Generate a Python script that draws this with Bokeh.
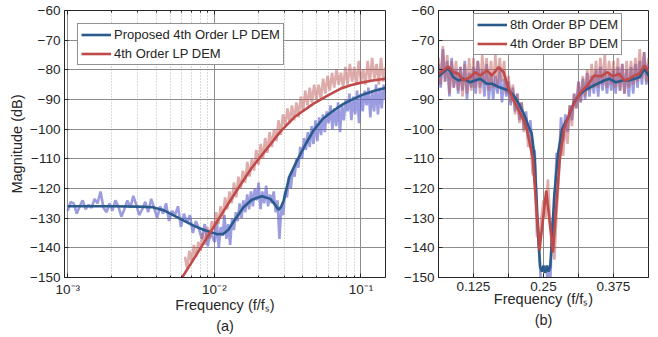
import numpy as np
from bokeh.plotting import figure
from bokeh.models import (Range1d, FixedTicker, LogAxis, LinearAxis, Legend,
                          LegendItem, Title, CustomJSTickFormatter)
from bokeh.layouts import row
from bokeh.embed import file_html
from bokeh.resources import INLINE

FONT = "Liberation Sans"
TXT = "#262626"
BLUE = "#2a5b8c"
RED = "#c04a4a"
BLUE_N = "#5a5acc"
RED_N = "#c05a5a"

# ---------------- shared ----------------
y_ticks = [-150, -140, -130, -120, -110, -100, -90, -80, -70, -60]

# ---------------- panel (a): LP DEM ----------------
lp_x_ticks = [0.001, 0.01, 0.1]
lp_minor_ticks = [k * d for d in (0.001, 0.01, 0.1) for k in range(2, 10)]

lp_prop_f = [0.001, 0.0015, 0.002, 0.003, 0.0038, 0.0045, 0.005, 0.006, 0.0072,
             0.0085, 0.0094, 0.0105, 0.0115, 0.0125, 0.0138, 0.0158, 0.018, 0.0211,
             0.0241, 0.026, 0.0274, 0.0285, 0.0297, 0.0325, 0.0366, 0.042, 0.0475,
             0.055, 0.065, 0.076, 0.089, 0.105, 0.125, 0.147]
lp_prop_db = [-126.0, -126.0, -126.0, -126.1, -126.3, -127.3, -128.5, -130.5, -132.5,
              -134.0, -134.7, -135.4, -135.3, -133.8, -130.5, -126.3, -123.8, -122.6,
              -123.5, -125.5, -127.2, -126.2, -124.0, -116.0, -110.6, -105.0, -100.4,
              -96.5, -93.7, -91.5, -89.8, -88.2, -87.0, -86.1]

lp_4th_f = [0.0055, 0.007, 0.009, 0.0115, 0.0145, 0.018, 0.0225, 0.028, 0.035,
            0.0475, 0.06, 0.0723, 0.085, 0.0989, 0.12, 0.147]
lp_4th_db = [-153.1, -144.9, -136.2, -127.8, -120.0, -113.0, -107.0, -101.0, -96.0,
             -91.4, -88.5, -86.4, -85.2, -84.4, -83.6, -83.0]

lp_prop_noise_lo_db = [
    -127.5, -124.5, -125.0, -128.5, -126.0, -124.0, -127.0, -125.5, -126.5, -123.5,
    -125.0, -121.0, -126.5, -128.0, -125.0, -127.5, -124.0, -126.0, -129.5, -127.0,
    -124.0, -126.5, -122.5, -125.5, -129.0, -127.0, -124.5, -128.0, -123.5, -126.5,
    -130.0, -126.0, -128.5, -125.0, -131.0, -127.5, -129.0, -126.0, -133.0, -128.5,
    -131.5, -129.0, -135.0, -131.0, -133.5, -137.0, -132.0, -139.5, -134.5, -137.5]
lp_prop_noise_hi_db = [
    -138, -131, -140, -133, -136, -129, -137, -132, -139, -130,
    -134, -128, -131, -125, -130, -124, -128, -122, -127, -121,
    -126, -120, -124, -118, -127, -121, -125, -119, -126, -122,
    -125, -121, -128, -124, -137, -126, -129, -121, -123, -116,
    -120, -114, -116, -110, -113, -106, -110, -103, -107, -101,
    -106, -99, -105, -97, -104, -96, -102, -95, -101, -94,
    -98, -92, -100, -93, -99, -91, -101, -92, -97, -90,
    -94, -88, -97, -89, -95, -87, -98, -88, -94, -87,
    -92, -86, -96, -87, -94, -85, -95, -86, -93, -85,
    -90]
lp_4th_noise_db = [
    -143, -147, -141, -145, -139, -143, -138, -141, -135, -139,
    -133, -137, -131, -134, -128, -132, -126, -130, -123, -127,
    -121, -125, -118, -123, -116, -120, -114, -118, -111, -116,
    -110, -114, -107, -112, -105, -110, -103, -108, -101, -106,
    -100, -104, -97, -102, -95, -99, -93, -98, -92, -97,
    -91, -96, -89, -94, -87, -92, -86, -91, -85, -90,
    -85, -90, -83, -88, -82, -87, -81, -86, -80, -85,
    -81, -86, -79, -85, -78, -84, -79, -85, -77, -84,
    -80, -85, -77, -84, -76, -83, -78, -85, -76, -84,
    -79]

# ---------------- panel (b): BP DEM ----------------
bp_x_ticks = [0.125, 0.1875, 0.25, 0.3125, 0.375]

bp8_f = [0.0625, 0.0711, 0.0801, 0.0891, 0.0981, 0.107, 0.1189, 0.1279, 0.1369, 0.1489,
         0.1579, 0.1699, 0.1789, 0.1879, 0.1968, 0.2058, 0.2148, 0.2238, 0.229, 0.234,
         0.238, 0.241, 0.244, 0.247, 0.250, 0.253, 0.256, 0.259, 0.262, 0.265,
         0.269, 0.2759, 0.2836, 0.2956, 0.3046, 0.3136, 0.3226, 0.3344, 0.3464, 0.3585,
         0.3675, 0.3793, 0.3913, 0.4024, 0.4124, 0.4213, 0.4303, 0.4375]
bp8_db = [-82.3, -80.8, -79.4, -82.5, -83.6, -83.0, -84.2, -83.6, -83.0, -84.7,
          -84.7, -85.8, -86.4, -87.0, -88.6, -91.4, -94.8, -99.3, -101.5, -109.4,
          -125.0, -138.0, -146.5, -148.0, -146.0, -148.5, -146.0, -148.0, -146.5, -137.5,
          -123.0, -108.3, -99.8, -95.4, -90.9, -88.6, -87.0, -85.8, -84.7, -83.6,
          -83.0, -84.2, -83.6, -83.6, -83.0, -82.5, -79.7, -81.9]

bp4_f = [0.0625, 0.0711, 0.0801, 0.0891, 0.0981, 0.107, 0.1189, 0.1279, 0.1369, 0.1489,
         0.1579, 0.1699, 0.1789, 0.1848, 0.1938, 0.2028, 0.2148, 0.2207, 0.231, 0.2428,
         0.2549, 0.2669, 0.2788, 0.2866, 0.2985, 0.3075, 0.3165, 0.3285, 0.3405, 0.3524,
         0.3644, 0.3734, 0.3854, 0.3944, 0.4034, 0.4124, 0.4213, 0.4303, 0.4375]
bp4_db = [-81.5, -80.2, -78.9, -80.8, -81.3, -83.6, -82.5, -80.8, -81.9, -80.2,
          -81.9, -79.1, -80.8, -84.7, -89.2, -92.6, -97.1, -100.4, -110.0, -140.9,
          -120.7, -141.5, -110.6, -100.0, -93.7, -90.3, -87.5, -85.3, -81.9, -82.2,
          -80.8, -82.2, -81.3, -83.6, -83.0, -81.9, -81.3, -78.5, -80.5]

bp8_noise_db = [
    -78, -86, -73, -84, -77, -89, -76, -86,
    -80, -88, -79, -87, -77, -90, -81, -86,
    -79, -88, -77, -86, -80, -89, -78, -90,
    -81, -90, -82, -88, -80, -91, -83, -89,
    -84, -92, -86, -94, -88, -97, -91, -100,
    -94, -103, -97, -108, -107, -130, -139, -155,
    -150, -155, -146, -154, -132, -127, -108, -113,
    -96, -104, -95, -101, -92, -97, -88, -93,
    -84, -91, -83, -90, -81, -89, -82, -88,
    -80, -89, -79, -87, -80, -88, -81, -87,
    -80, -88, -79, -87, -78, -88, -80, -89,
    -79, -88, -78, -86, -77, -85, -74, -85,
    -78]
bp4_noise_db = [
    -76, -85, -72, -84, -75, -88, -77, -86,
    -77, -87, -79, -89, -78, -88, -76, -87,
    -76, -86, -77, -88, -75, -85, -76, -87,
    -77, -86, -75, -85, -76, -84, -77, -88,
    -82, -91, -85, -95, -88, -98, -91, -101,
    -96, -106, -102, -115, -116, -136, -137, -130,
    -124, -130, -117, -131, -135, -144, -128, -116,
    -100, -109, -97, -105, -92, -99, -88, -93,
    -84, -91, -82, -89, -80, -87, -78, -86,
    -77, -86, -76, -85, -75, -86, -77, -85,
    -77, -86, -76, -87, -78, -88, -77, -86,
    -77, -85, -76, -84, -73, -83, -74, -84,
    -76]

# frequency bins of the measured spectra
lp_prop_noise_f = np.concatenate([np.geomspace(0.001, 0.0099, len(lp_prop_noise_lo_db)),
                                  np.geomspace(0.0101, 0.147, len(lp_prop_noise_hi_db))])
lp_prop_noise_db = lp_prop_noise_lo_db + lp_prop_noise_hi_db
lp_4th_noise_f = np.geomspace(0.0063, 0.147, len(lp_4th_noise_db))
bp8_noise_f = np.linspace(0.0625, 0.4375, len(bp8_noise_db))
bp4_noise_f = np.linspace(0.0625, 0.4375, len(bp4_noise_db))

Y_FMT = "return tick < 0 ? '\u2212' + Math.abs(tick) : String(tick);"
LOG_FMT = """
const e = Math.round(Math.log10(tick));
const sup = {'-':'\u207b','0':'\u2070','1':'\u00b9','2':'\u00b2','3':'\u00b3','4':'\u2074',
             '5':'\u2075','6':'\u2076','7':'\u2077','8':'\u2078','9':'\u2079'};
return '10' + String(e).split('').map(c => sup[c]).join('');
"""
BP_FMT = """
const q = tick / 0.125;
return Math.abs(q - Math.round(q)) < 1e-6 ? String(tick) : '';
"""


def style_axis(ax):
    ax.axis_line_color = TXT
    ax.major_tick_line_color = TXT
    ax.minor_tick_line_color = TXT
    ax.major_tick_in = 4
    ax.major_tick_out = 0
    ax.minor_tick_in = 2
    ax.minor_tick_out = 0
    ax.major_label_text_font = FONT
    ax.major_label_text_font_size = "13.5px"
    ax.major_label_text_color = TXT
    ax.major_label_standoff = 4
    ax.axis_label_text_font = FONT
    ax.axis_label_text_font_size = "14.5px"
    ax.axis_label_text_font_style = "normal"
    ax.axis_label_text_color = TXT
    ax.axis_label_standoff = -3


def top_axis(cls, ticker):
    ax = cls(ticker=ticker, formatter=CustomJSTickFormatter(code="return '';"),
             major_label_text_font_size="1px", major_label_standoff=0,
             axis_line_color=None, major_tick_in=4, major_tick_out=0,
             minor_tick_in=2, minor_tick_out=0,
             major_tick_line_color=TXT, minor_tick_line_color=TXT)
    return ax


def make_legend(items, loc):
    lg = Legend(items=items, location=loc, label_text_font=FONT,
                label_text_font_size="13px", label_text_color=TXT,
                glyph_width=30, glyph_height=15, label_height=15,
                label_standoff=3, padding=3, spacing=4, margin=0,
                border_line_color=TXT, border_line_width=1,
                background_fill_color="white", background_fill_alpha=1.0)
    return lg


NOISE_W = 2.6

# ---------- figure (a) ----------
p1 = figure(x_axis_type="log", x_range=Range1d(0.00095, 0.147), y_range=Range1d(-150, -60),
            frame_width=321, frame_height=267, min_border_left=64, min_border_right=8,
            min_border_top=10, min_border_bottom=60, output_backend="svg",
            toolbar_location=None)
lp_ticker = FixedTicker(ticks=lp_x_ticks, minor_ticks=lp_minor_ticks)
p1.xaxis.ticker = lp_ticker
p1.xgrid.ticker = lp_ticker
p1.xaxis.formatter = CustomJSTickFormatter(code=LOG_FMT)
p1.yaxis.ticker = FixedTicker(ticks=y_ticks)
p1.yaxis.formatter = CustomJSTickFormatter(code=Y_FMT)
p1.xaxis.axis_label = "Frequency (f/f\u209b)"
p1.yaxis.axis_label = "Magnitude (dB)"
for ax in p1.xaxis + p1.yaxis:
    style_axis(ax)
p1.yaxis.axis_label_standoff = 2
p1.add_layout(top_axis(LogAxis, FixedTicker(ticks=lp_x_ticks, minor_ticks=lp_minor_ticks)), "above")

p1.xgrid.grid_line_color = "#8c8c8c"
p1.xgrid.minor_grid_line_color = "#b4b4b4"
p1.xgrid.minor_grid_line_dash = "1 2"
p1.ygrid.grid_line_color = "#8c8c8c"
p1.outline_line_color = TXT
p1.outline_line_alpha = 1.0

p1.line(lp_prop_noise_f, lp_prop_noise_db, line_width=NOISE_W, color=BLUE_N, alpha=0.6)
p1.line(lp_4th_noise_f, lp_4th_noise_db, line_width=NOISE_W, color=RED_N, alpha=0.5)
r_pb = p1.line(lp_prop_f, lp_prop_db, line_width=2.6, color=BLUE)
r_pr = p1.line(lp_4th_f, lp_4th_db, line_width=2.6, color=RED)
p1.add_layout(make_legend([LegendItem(label="Proposed 4th Order LP DEM", renderers=[r_pb]),
                           LegendItem(label="4th Order LP DEM", renderers=[r_pr])], (13, 212)))
p1.add_layout(Title(text="(a)", align="center", text_font=FONT, text_font_size="14.5px",
                    text_font_style="normal", text_color=TXT, standoff=0), "below")

# ---------- figure (b) ----------
p2 = figure(x_range=Range1d(0.0625, 0.4375), y_range=Range1d(-150, -60),
            frame_width=210, frame_height=267, min_border_left=45, min_border_right=10,
            min_border_top=10, min_border_bottom=60, output_backend="svg",
            toolbar_location=None)
p2.xaxis.ticker = FixedTicker(ticks=bp_x_ticks)
p2.xaxis.formatter = CustomJSTickFormatter(code=BP_FMT)
p2.yaxis.ticker = FixedTicker(ticks=y_ticks)
p2.yaxis.formatter = CustomJSTickFormatter(code=Y_FMT)
p2.xaxis.axis_label = "Frequency (f/f\u209b)"
for ax in p2.xaxis + p2.yaxis:
    style_axis(ax)
p2.add_layout(top_axis(LinearAxis, FixedTicker(ticks=bp_x_ticks)), "above")
p2.xgrid.grid_line_color = "#8c8c8c"
p2.ygrid.grid_line_color = "#8c8c8c"
p2.outline_line_color = TXT
p2.outline_line_alpha = 1.0

p2.line(bp8_noise_f, bp8_noise_db, line_width=NOISE_W, color=BLUE_N, alpha=0.6)
p2.line(bp4_noise_f, bp4_noise_db, line_width=NOISE_W, color=RED_N, alpha=0.5)
r_b8 = p2.line(bp8_f, bp8_db, line_width=2.6, color=BLUE)
r_b4 = p2.line(bp4_f, bp4_db, line_width=2.6, color=RED)
p2.add_layout(make_legend([LegendItem(label="8th Order BP DEM", renderers=[r_b8]),
                           LegendItem(label="4th Order BP DEM", renderers=[r_b4])], (35, 222)))
p2.add_layout(Title(text="(b)", align="center", text_font=FONT, text_font_size="14.5px",
                    text_font_style="normal", text_color=TXT, standoff=0), "below")

layout = row(p1, p2)
open("out.html", "w").write(file_html(layout, INLINE))
